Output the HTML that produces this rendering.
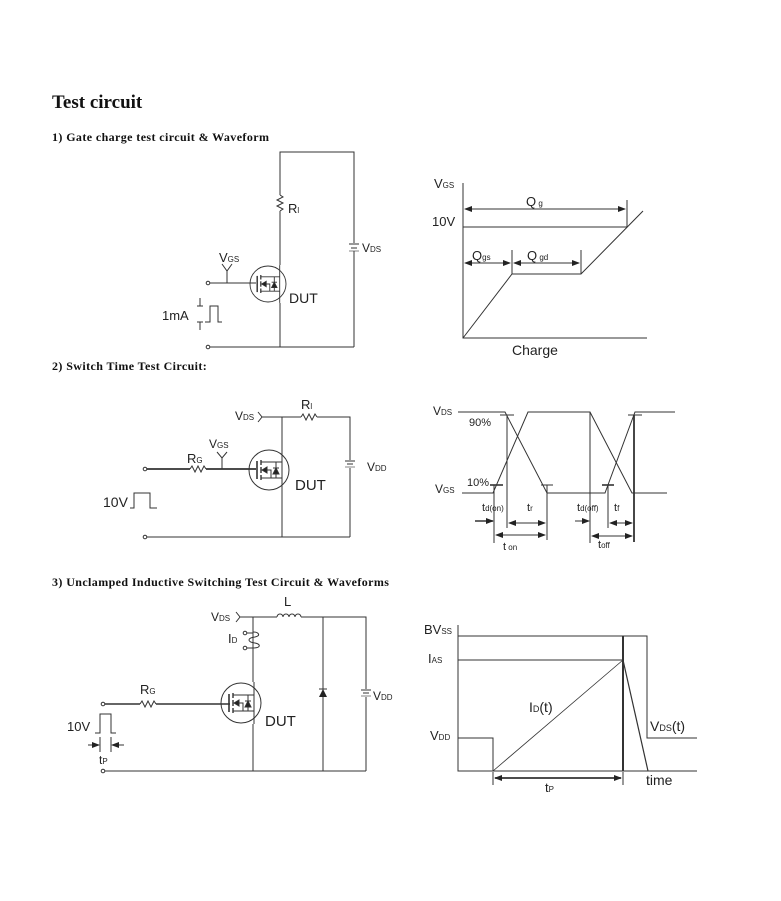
<!DOCTYPE html>
<html><head><meta charset="utf-8">
<style>
html,body{margin:0;padding:0;background:#fff;}
svg{display:block;}
.t{font-family:"Liberation Sans",sans-serif;fill:#222;}
.s{font-family:"Liberation Serif",serif;font-weight:bold;fill:#111;}
</style></head><body>
<svg width="781" height="901" viewBox="0 0 781 901" xmlns="http://www.w3.org/2000/svg">
<defs>
<g id="fet" stroke="#333" stroke-width="1" fill="none">
<circle cx="0" cy="0" r="20"/>
<line x1="-12" y1="-9" x2="-12" y2="9" stroke-width="1.6"/>
<line x1="-8" y1="-10" x2="-8" y2="-5" stroke-width="1.4"/>
<line x1="-8" y1="-3" x2="-8" y2="3" stroke-width="1.4"/>
<line x1="-8" y1="5" x2="-8" y2="10" stroke-width="1.4"/>
<polyline points="-8,-8 13,-8"/>
<polyline points="-8,8 13,8"/>
<line x1="13" y1="-21" x2="13" y2="21"/>
<polyline points="-6,0 2,0 2,8"/>
<polygon points="-7,0 -2,-3 -2,3" fill="#222"/>
<line x1="7" y1="-8" x2="7" y2="8"/>
<polygon points="4,4 10,4 7,-2" fill="#222"/>
<line x1="4" y1="-2" x2="10" y2="-2"/>
</g>
<marker id="ar" markerWidth="8" markerHeight="6" refX="7" refY="3" orient="auto" markerUnits="userSpaceOnUse">
<polygon points="0,0 8,3 0,6" fill="#222"/></marker>
<marker id="al" markerWidth="8" markerHeight="6" refX="1" refY="3" orient="auto" markerUnits="userSpaceOnUse">
<polygon points="8,0 0,3 8,6" fill="#222"/></marker>
</defs>

<text x="52" y="108" class="s" font-size="19">Test circuit</text>
<text x="52" y="141" class="s" font-size="12" letter-spacing="0.4">1)  Gate charge test circuit &amp; Waveform</text>
<text x="52" y="370" class="s" font-size="12" letter-spacing="0.4">2)  Switch Time Test Circuit:</text>
<text x="52" y="586" class="s" font-size="12" letter-spacing="0.4">3)  Unclamped Inductive Switching Test Circuit &amp; Waveforms</text>

<!-- ===== Circuit 1 ===== -->
<g stroke="#333" stroke-width="1" fill="none">
<polyline points="280,195 280,152 354,152 354,243"/>
<line x1="354" y1="251" x2="354" y2="347"/>
<line x1="349" y1="244" x2="359" y2="244"/>
<line x1="351" y1="248" x2="357" y2="248"/>
<line x1="349" y1="251" x2="359" y2="251" stroke-width="0.6"/>
<polyline points="280,195 283,197 277,200 283,203 277,206 283,209 280,211"/>
<line x1="280" y1="211" x2="280" y2="265"/>
<line x1="280" y1="303" x2="280" y2="347"/>
<line x1="209" y1="347" x2="354" y2="347"/>
<line x1="210" y1="283" x2="256" y2="283"/>
<polyline points="222,264 227,271 232,264"/>
<line x1="227" y1="271" x2="227" y2="283"/>
<polyline points="205,322 210,322 210,306 218,306 218,322 222,322"/>
</g>
<circle cx="208" cy="283" r="1.8" fill="#fff" stroke="#333"/>
<circle cx="208" cy="347" r="1.8" fill="#fff" stroke="#333"/>
<use href="#fet" transform="translate(268,284) scale(0.9)"/>
<g stroke="#333" stroke-width="1"><line x1="200" y1="298" x2="200" y2="306"/><line x1="197" y1="306" x2="203" y2="306"/><line x1="197" y1="322" x2="203" y2="322"/><line x1="200" y1="322" x2="200" y2="330"/></g>
<text x="288" y="213" class="t" font-size="13">R<tspan font-size="8">l</tspan></text>
<text x="362" y="252" class="t" font-size="12">V<tspan font-size="8">DS</tspan></text>
<text x="219" y="262" class="t" font-size="13">V<tspan font-size="8">GS</tspan></text>
<text x="289" y="303" class="t" font-size="14">DUT</text>
<text x="162" y="320" class="t" font-size="13">1mA</text>

<!-- ===== Waveform 1 ===== -->
<g stroke="#333" stroke-width="1" fill="none">
<polyline points="463,183 463,338 647,338"/>
<line x1="463" y1="227" x2="627" y2="227"/>
<line x1="627" y1="200" x2="627" y2="227"/>
<line x1="465" y1="209" x2="625" y2="209" marker-start="url(#al)" marker-end="url(#ar)"/>
<polyline points="463,338 512,274 581,274 643,211"/>
<line x1="512" y1="250" x2="512" y2="274"/>
<line x1="581" y1="250" x2="581" y2="274"/>
<line x1="465" y1="263" x2="510" y2="263" marker-start="url(#al)" marker-end="url(#ar)"/>
<line x1="514" y1="263" x2="579" y2="263" marker-start="url(#al)" marker-end="url(#ar)"/>
</g>
<text x="434" y="188" class="t" font-size="13">V<tspan font-size="8">GS</tspan></text>
<text x="432" y="226" class="t" font-size="13">10V</text>
<text x="526" y="206" class="t" font-size="13">Q<tspan font-size="8"> g</tspan></text>
<text x="472" y="260" class="t" font-size="13">Q<tspan font-size="8">gs</tspan></text>
<text x="527" y="260" class="t" font-size="13">Q<tspan font-size="8"> gd</tspan></text>
<text x="512" y="355" class="t" font-size="14">Charge</text>

<!-- ===== Circuit 2 ===== -->
<g stroke="#333" stroke-width="1" fill="none">
<polyline points="258,412 262,417 258,422"/>
<line x1="262" y1="417" x2="301" y2="417"/>
<polyline points="301,417 303,414 306,420 309,414 312,420 315,414 317,417"/>
<polyline points="317,417 350,417 350,460"/>
<line x1="350" y1="468" x2="350" y2="537"/>
<line x1="345" y1="461" x2="355" y2="461"/>
<line x1="347" y1="464" x2="353" y2="464"/>
<line x1="345" y1="467" x2="355" y2="467" stroke-width="0.6"/>
<line x1="282" y1="417" x2="282" y2="449"/>
<line x1="282" y1="491" x2="282" y2="537"/>
<line x1="146" y1="537" x2="350" y2="537"/>
<line x1="146" y1="469" x2="190" y2="469" stroke-width="1.8"/>
<polyline points="190,469 192,466 195,472 198,466 201,472 204,466 206,469"/>
<line x1="206" y1="469" x2="256" y2="469" stroke-width="1.8"/>
<polyline points="217,452 222,458 227,452"/>
<line x1="222" y1="458" x2="222" y2="469"/>
<polyline points="130,508 134,508 134,493 150,493 150,508 157,508"/>
</g>
<circle cx="145" cy="469" r="1.8" fill="#fff" stroke="#333"/>
<circle cx="145" cy="537" r="1.8" fill="#fff" stroke="#333"/>
<use href="#fet" transform="translate(269,470)"/>
<text x="235" y="420" class="t" font-size="12">V<tspan font-size="8">DS</tspan></text>
<text x="301" y="409" class="t" font-size="13">R<tspan font-size="8">l</tspan></text>
<text x="209" y="448" class="t" font-size="12">V<tspan font-size="8">GS</tspan></text>
<text x="187" y="463" class="t" font-size="13">R<tspan font-size="8">G</tspan></text>
<text x="295" y="490" class="t" font-size="15">DUT</text>
<text x="367" y="471" class="t" font-size="12">V<tspan font-size="8">DD</tspan></text>
<text x="103" y="507" class="t" font-size="14">10V</text>

<!-- ===== Waveform 2 ===== -->
<g stroke="#333" stroke-width="1" fill="none">
<polyline points="458,412 505,412 547,493 605,493 635,412 675,412"/>
<polyline points="462,493 493,493 528,412 590,412 632,493 667,493"/>
<line x1="500" y1="415" x2="514" y2="415"/>
<line x1="507" y1="415" x2="507" y2="528"/>
<line x1="490" y1="485" x2="503" y2="485" stroke-width="1.6"/>
<line x1="494" y1="485" x2="494" y2="543"/>
<line x1="541" y1="485" x2="553" y2="485"/>
<line x1="547" y1="485" x2="547" y2="540"/>
<line x1="590" y1="412" x2="590" y2="543"/>
<line x1="602" y1="485" x2="614" y2="485" stroke-width="1.6"/>
<line x1="608" y1="485" x2="608" y2="528"/>
<line x1="628" y1="415" x2="642" y2="415"/>
<line x1="634" y1="415" x2="634" y2="542" stroke-width="1.8"/>
<line x1="475" y1="521" x2="493" y2="521" marker-end="url(#ar)" stroke-width="1.5"/>
<line x1="509" y1="523" x2="545" y2="523" marker-start="url(#al)" marker-end="url(#ar)"/>
<line x1="496" y1="535" x2="545" y2="535" marker-start="url(#al)" marker-end="url(#ar)"/>
<line x1="575" y1="521" x2="589" y2="521" marker-end="url(#ar)"/>
<line x1="610" y1="523" x2="632" y2="523" marker-start="url(#al)" marker-end="url(#ar)"/>
<line x1="592" y1="536" x2="632" y2="536" marker-start="url(#al)" marker-end="url(#ar)"/>
</g>
<text x="433" y="415" class="t" font-size="12">V<tspan font-size="8">DS</tspan></text>
<text x="435" y="493" class="t" font-size="12">V<tspan font-size="8">GS</tspan></text>
<text x="469" y="426" class="t" font-size="11">90%</text>
<text x="467" y="486" class="t" font-size="11">10%</text>
<text x="482" y="511" class="t" font-size="11">t<tspan font-size="8">d(on)</tspan></text>
<text x="527" y="511" class="t" font-size="11">t<tspan font-size="8">r</tspan></text>
<text x="577" y="511" class="t" font-size="11">t<tspan font-size="8">d(off)</tspan></text>
<text x="614" y="511" class="t" font-size="11">t<tspan font-size="8">f</tspan></text>
<text x="503" y="550" class="t" font-size="11">t<tspan font-size="8"> on</tspan></text>
<text x="598" y="548" class="t" font-size="11">t<tspan font-size="8">off</tspan></text>

<!-- ===== Circuit 3 ===== -->
<g stroke="#333" stroke-width="1" fill="none">
<polyline points="236,612 240,617 236,622"/>
<line x1="240" y1="617" x2="277" y2="617"/>
<path d="M277,617 a3,3 0 0 1 6,0 a3,3 0 0 1 6,0 a3,3 0 0 1 6,0 a3,3 0 0 1 6,0"/>
<polyline points="301,617 366,617 366,689"/>
<line x1="366" y1="697" x2="366" y2="771"/>
<line x1="361" y1="690" x2="371" y2="690"/>
<line x1="363" y1="693" x2="369" y2="693"/>
<line x1="361" y1="696" x2="371" y2="696" stroke-width="0.6"/>
<line x1="323" y1="617" x2="323" y2="771"/>
<line x1="253" y1="617" x2="253" y2="682"/>
<line x1="253" y1="724" x2="253" y2="771"/>
<line x1="103" y1="771" x2="366" y2="771"/>
<path d="M253,632 c6,0 8,4 2,5 c-8,1 -8,5 0,6 c6,1 6,5 -2,5"/>
<line x1="245" y1="633" x2="253" y2="633"/>
<line x1="245" y1="648" x2="253" y2="648"/>
<line x1="103" y1="704" x2="140" y2="704" stroke-width="1.6"/>
<polyline points="140,704 142,701 145,707 148,701 151,707 154,701 156,704"/>
<line x1="156" y1="704" x2="230" y2="704" stroke-width="1.6"/>
<polyline points="95,733 100,733 100,714 111,714 111,733 116,733"/>
<line x1="100" y1="737" x2="100" y2="752"/>
<line x1="111" y1="737" x2="111" y2="752"/>
<line x1="88" y1="745" x2="99" y2="745" marker-end="url(#ar)"/>
<line x1="124" y1="745" x2="112" y2="745" marker-end="url(#ar)"/>
</g>
<polygon points="319,697 327,697 323,689" fill="#222"/>
<line x1="319" y1="689" x2="327" y2="689" stroke="#333"/>
<circle cx="245" cy="633" r="1.8" fill="#fff" stroke="#333"/>
<circle cx="245" cy="648" r="1.8" fill="#fff" stroke="#333"/>
<circle cx="103" cy="704" r="1.8" fill="#fff" stroke="#333"/>
<circle cx="103" cy="771" r="1.8" fill="#fff" stroke="#333"/>
<use href="#fet" transform="translate(241,703)"/>
<text x="211" y="621" class="t" font-size="12">V<tspan font-size="8">DS</tspan></text>
<text x="284" y="606" class="t" font-size="13">L</text>
<text x="228" y="643" class="t" font-size="13">I<tspan font-size="8">D</tspan></text>
<text x="140" y="694" class="t" font-size="13">R<tspan font-size="8">G</tspan></text>
<text x="265" y="726" class="t" font-size="15">DUT</text>
<text x="373" y="700" class="t" font-size="12">V<tspan font-size="8">DD</tspan></text>
<text x="67" y="731" class="t" font-size="13">10V</text>
<text x="99" y="764" class="t" font-size="12">t<tspan font-size="8">P</tspan></text>

<!-- ===== Waveform 3 ===== -->
<g stroke="#333" stroke-width="1" fill="none">
<polyline points="458,625 458,771 697,771"/>
<polyline points="458,636 647,636 647,738 697,738"/>
<line x1="458" y1="660" x2="623" y2="660"/>
<polyline points="458,738 493,738 493,771"/>
<line x1="493" y1="771" x2="623" y2="660" stroke-width="0.8"/>
<line x1="623" y1="660" x2="648" y2="771" stroke-width="1.2"/>
<line x1="623" y1="636" x2="623" y2="771" stroke-width="2"/>
<line x1="495" y1="778" x2="621" y2="778" stroke-width="1.8" marker-start="url(#al)" marker-end="url(#ar)"/>
<line x1="493" y1="772" x2="493" y2="785"/>
<line x1="623" y1="772" x2="623" y2="785"/>
</g>
<text x="424" y="634" class="t" font-size="13">BV<tspan font-size="8">SS</tspan></text>
<text x="428" y="663" class="t" font-size="13">I<tspan font-size="8">AS</tspan></text>
<text x="430" y="740" class="t" font-size="13">V<tspan font-size="8">DD</tspan></text>
<text x="529" y="712" class="t" font-size="14">I<tspan font-size="9">D</tspan>(t)</text>
<text x="650" y="731" class="t" font-size="14">V<tspan font-size="9">DS</tspan>(t)</text>
<text x="646" y="785" class="t" font-size="14">time</text>
<text x="545" y="792" class="t" font-size="13">t<tspan font-size="8">P</tspan></text>
</svg>
</body></html>
